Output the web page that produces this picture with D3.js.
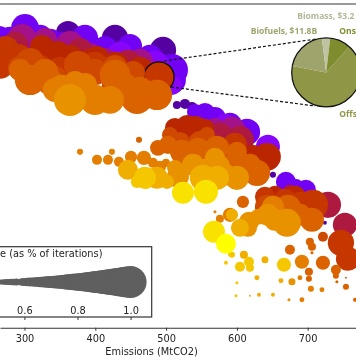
<!DOCTYPE html>
<html>
<head>
<meta charset="utf-8">
<style>
  body { margin: 0; background: #fff; }
  svg { display: block; filter: blur(0.35px); }
  text { font-family: "DejaVu Sans", sans-serif; }
</style>
<script src="https://cdn.jsdelivr.net/npm/d3@7"></script>
</head>
<body>
<div id="chart"></div>
<script>
"use strict";

// each row: emissions (MtCO2), cost (relative, axis is hidden), frequency
const band12 = [[361.4,295,.9],[427.8,290,.93],[495.6,278,.93],[515.3,223,.6],[526.6,224,.65],[536.5,221,.65],[650.9,153,.54],[724.3,105,.46]];
const band20 = [[265.4,293,.81],[300.7,300,.95],[336,286,.93],[385.4,290,.93],[413.7,280,.9],[449,282,.9],[477.2,270,.93],[508.3,258,1],[385.4,278,.9],[353,284,.9],[279.5,288,.93],[321.9,290,.93],[364.2,280,.93],[441.9,273,.9],[463,266,.93],[491.3,260,.95],[508.3,248,.95],[265.4,280,.9],[554.9,215,.84],[540.7,216,.77],[569,210,.87],[590.2,203,.9],[614.2,196,.93],[669.2,146,.84],[697.5,138,.84],[683.4,141,.77]];
const band30 = [[643.8,181,.9],[434.8,273,.93],[484.3,263,.95],[583.1,203,.87],[508.3,243,.84]];
const band42 = [[296.5,290,.95],[364.2,283,.95],[329,288,.9],[413.7,268,.9],[463,266,.93],[593,198,.93],[569,200,.84],[265.4,278,.9],[336,276,.93],[392.5,273,.9],[434.8,263,.93],[477.2,253,.95]];
const band47 = [[286.6,283,.93],[378.4,278,.9],[446.1,265,.93],[604.3,188,.95],[576,193,.9],[728.5,123,.93],[752.5,103,.9],[674.9,136,.74]];
const band54 = [[324.7,281,.9],[329,271,.95],[392.5,265,.95],[345.9,273,.95],[402.4,270,.9],[279.5,268,.95],[364.2,270,.93],[427.8,263,.93],[463,258,.93],[528,200,.84],[540.7,198,.95],[512.5,200,.84],[529.4,203,.84],[554.9,200,.81],[622.6,173,.84],[642.4,171,.95],[653.7,133,.81],[682,131,.87]];
const band60 = [[489.9,251,.98],[272.5,278,.95],[290.8,270,.95],[423.5,260,.9],[265.4,263,.95],[321.9,260,.93],[350.1,258,.93],[399.5,263,.93],[597.2,183,.9],[667.8,128,.87],[689,123,.93],[707.4,123,.98],[746.9,85,.93],[756.8,69,.9],[639.6,131,.84]];
const band66 = [[307.8,266,.95],[293.6,260,.9],[375.5,263,.95],[399.5,256,.93],[427.8,261,.9],[453.2,255,.9],[343,250,.9],[427.8,243,.93],[505.4,193,.77],[557.7,193,.77],[547.8,186,.87],[519.6,186,.84],[583.1,173,.87],[721.5,91,.65],[642.4,121,.9]];
const band72 = [[293.6,258,.87],[307.8,248,.98],[329,256,.93],[336,246,.93],[427.8,253,.98],[487.1,233,.98],[441.9,243,.9],[463,238,.93],[434.8,236,.95],[458.8,230,1],[488.5,180,.77],[502.6,183,.81],[522.4,176,.9],[533.7,170,.84],[545,178,.9],[571.8,180,.9],[600,176,.84],[618.4,163,.87],[628.3,155,.93],[594.4,158,.98],[608.5,126,.7],[672,120,.93],[689,113,.87],[706,108,.9],[721.5,65,.74],[703.1,86,.6],[706,81,.6],[706,75,.42],[739.8,58,.65],[739.8,52,.54],[741.2,46,.42],[754,50,.36],[754,41,.54],[674.9,78,.65],[701.7,56,.6],[701.7,49,.54],[461.7,188,.54],[766.7,28,.46]];
const band80 = [[352.9,240,.93],[343,238,.9],[371.3,246,.87],[385.4,236,.93],[385.4,243,.9],[399.5,228,.98],[420.7,228,.95],[650.9,121,.87],[691.8,66,.74],[689,50,.5],[704.5,39,.54],[720.1,38,.5],[691.8,28,.5],[378.4,176,.54],[402.4,168,.65],[417.9,168,.65],[423.5,176,.54],[433.4,166,.65],[450.4,171,.7],[468.7,170,.74],[481.4,165,.65],[499.8,165,.6],[491.3,161,.7],[590.2,113,.74],[576,109,.6],[569,116,.42]];
const band84 = [[364.2,228,1],[537.9,163,.87],[569,170,.84],[573.2,161,.9],[554.9,158,.87],[512.5,160,.77],[583.1,153,.87],[600,150,.9],[516.7,151,.87],[643.8,113,.87],[653.7,108,.87],[670.6,105,.95],[617,106,.84],[615.6,100,.81],[677.7,46,.57],[673.5,28,.42],[629.7,111,.77]];
const band88 = [[552,150,.93],[571.8,150,.9],[487.1,150,.87],[446.1,158,.84],[593,113,.7],[604.3,100,.81],[501.2,146,.74],[628.3,50,.5],[618.4,32,.36],[631.1,33,.46],[650.9,33,.46],[639.6,68,.57],[609.9,73,.6],[662.2,47,.5]];
const band92 = [[470.1,150,.87],[471.5,146,.74],[458.8,146,.7],[617,66,.65],[604.3,61,.65],[618.4,60,.6],[666.4,63,.74],[593,73,.54],[590.2,73,.46],[584.5,65,.46],[600,45,.42],[598.6,32,.42]];
const band96 = [[523.8,135,.87],[556.3,136,.9],[567.6,96,.87]];
const band100 = [[584.5,84,.84]];

const bands = [band12, band20, band30, band42, band47, band54, band60, band66, band72, band80, band84, band88, band92, band96, band100];
const bandLevels = [.11, .2, .28, .41, .46, .53, .6, .66, .73, .79, .83, .88, .92, .96, 1];

// the ringed point, its pie breakdown
const selected = [489.9, 251];
const pieNames = ["Offshore", "Biofuels", "Biomass", "Onshore"];
const pieShares = [66.3, 20, 3.9, 9.8];
const pieColors = ["#8f9645", "#9fa36c", "#c0c3a2", "#7f8d2f"];
const pieLabels = ["Offs", "Biofuels, $11.8B", "Biomass, $3.2", "Ons"];

const xTicks = [300, 400, 500, 600, 700];
const legendTicks = [0.6, 0.8, 1.0];
const legendFreqs = [.4,.41,.42,.43,.44,.45,.46,.47,.48,.49,.5,.51,.52,.53,.54,.55,.56,.57,.59,.6,.61,.62,.63,.64,.65,.66,.67,.68,.69,.7,.71,.72,.73,.74,.75,.76,.77,.78,.79,.8,.81,.82,.83,.84,.85,.86,.87,.88,.89,.9,.91,.92,.93,.94,.95,.96,.97,.98,.99,1];

const width = 356, height = 364;
const axisY = 327.7, topY = 4;

const svg = d3.select("#chart").append("svg")
  .attr("width", width)
  .attr("height", height);

// Scales
const x = d3.scaleLinear().domain([265.4, 768.2]).range([0, width]);
const y = d3.scaleLinear().domain([0, 324]).range([axisY, topY]);
const radius = d3.scalePow().exponent(2.7).domain([0, 1]).range([0, 16]);
const legendX = d3.scaleLinear().domain([0.6, 1.0]).range([24.4, 130.6]);

// matplotlib's gnuplot colormap
function gnuplot(v) {
  const r = Math.sqrt(v), g = v * v * v, b = Math.max(0, Math.sin(2 * Math.PI * v));
  return d3.rgb(r * 255, g * 255, b * 255).formatHex();
}

// Top spine
svg.append("line")
  .attr("x1", 0).attr("x2", width)
  .attr("y1", topY).attr("y2", topY)
  .attr("stroke", "#777")
  .attr("stroke-width", 1.4);

// Scatter, low bands first so the yellow ones end up on top
bands.forEach(function(band, i) {
  svg.append("g").selectAll("circle").data(band).enter()
    .append("circle")
    .attr("cx", d => x(d[0]))
    .attr("cy", d => y(d[1]))
    .attr("r", d => radius(d[2]))
    .attr("fill", gnuplot(bandLevels[i]))
    .attr("stroke", d => (d[0] == selected[0] && d[1] == selected[1]) ? "#000" : "none")
    .attr("stroke-width", 1.2);
});

// Dashed leader lines from ringed point to pie
const pieCx = 326.2, pieCy = 72.4, pieR = 34.5;
const leaders = [[[164, 61], [316, 39]], [[171, 87], [315, 106]]];
leaders.forEach(function(l) {
  svg.append("line")
    .attr("x1", l[0][0]).attr("y1", l[0][1])
    .attr("x2", l[1][0]).attr("y2", l[1][1])
    .attr("stroke", "#111")
    .attr("stroke-width", 1.2)
    .attr("stroke-dasharray", "3,2");
});

// Pie
const pie = d3.pie().sort(null).startAngle(42 * Math.PI / 180).endAngle((42 + 360) * Math.PI / 180);
const arc = d3.arc().innerRadius(0).outerRadius(pieR);
const pieG = svg.append("g").attr("transform", `translate(${pieCx},${pieCy})`);
pieG.selectAll("path").data(pie(pieShares)).enter()
  .append("path")
  .attr("d", arc)
  .attr("fill", (d, i) => pieColors[i]);
pieG.append("circle")
  .attr("r", pieR)
  .attr("fill", "none")
  .attr("stroke", "#111")
  .attr("stroke-width", 1.2);

// Pie labels
const labelPos = [[339.3, 117], [250.7, 33.5], [297.3, 18.5], [339.3, 33.5]];
svg.selectAll(".pieLabel").data(pieLabels).enter()
  .append("text")
  .attr("class", "pieLabel")
  .attr("x", (d, i) => labelPos[i][0])
  .attr("y", (d, i) => labelPos[i][1])
  .style("font-family", '"Open Sans", sans-serif')
  .style("font-weight", "bold")
  .style("font-size", "8.5px")
  .attr("fill", (d, i) => i == 2 ? "#b4b798" : pieColors[i])
  .text(d => d);

// Bottom axis
const xAxis = d3.axisBottom(x).tickValues(xTicks).tickSize(3).tickSizeOuter(0).tickPadding(4);
const xG = svg.append("g")
  .attr("transform", `translate(0,${axisY})`)
  .call(xAxis);
xG.selectAll("text").style("font-size", "9.8px").style("font-family", '"DejaVu Sans"').attr("fill", "#222");
xG.selectAll("line").attr("stroke", "#333");
xG.select(".domain").attr("stroke", "#333").attr("stroke-width", 1.1);

svg.append("text")
  .attr("x", 151.5)
  .attr("y", 355)
  .attr("text-anchor", "middle")
  .style("font-size", "9.8px")
  .attr("fill", "#222")
  .text("Emissions (MtCO2)");

// Size legend
const legend = svg.append("g");
legend.append("rect")
  .attr("x", -20).attr("y", 246.7)
  .attr("width", 171.7).attr("height", 70.3)
  .attr("fill", "#fff")
  .attr("stroke", "#333")
  .attr("stroke-width", 1.2);
legend.append("g").selectAll("circle").data(legendFreqs).enter()
  .append("circle")
  .attr("cx", d => legendX(d))
  .attr("cy", 282)
  .attr("r", d => radius(d))
  .attr("fill", "#5f5f5f");
legend.append("text")
  .attr("x", 102.5)
  .attr("y", 257)
  .attr("text-anchor", "end")
  .style("font-size", "9.8px")
  .attr("fill", "#222")
  .text("Size (as % of iterations)");

const legendAxis = d3.axisBottom(legendX).tickValues(legendTicks).tickFormat(d3.format(".1f")).tickSize(3).tickSizeOuter(0);
const legendG = legend.append("g")
  .attr("transform", "translate(0,317)")
  .call(legendAxis);
legendG.select(".domain").remove();
legendG.selectAll("line").attr("stroke", "#333");
legendG.selectAll("text")
  .attr("y", -3)
  .attr("dy", 0)
  .style("font-size", "9.8px")
  .style("font-family", '"DejaVu Sans"')
  .attr("fill", "#222");
</script>
</body>
</html>
